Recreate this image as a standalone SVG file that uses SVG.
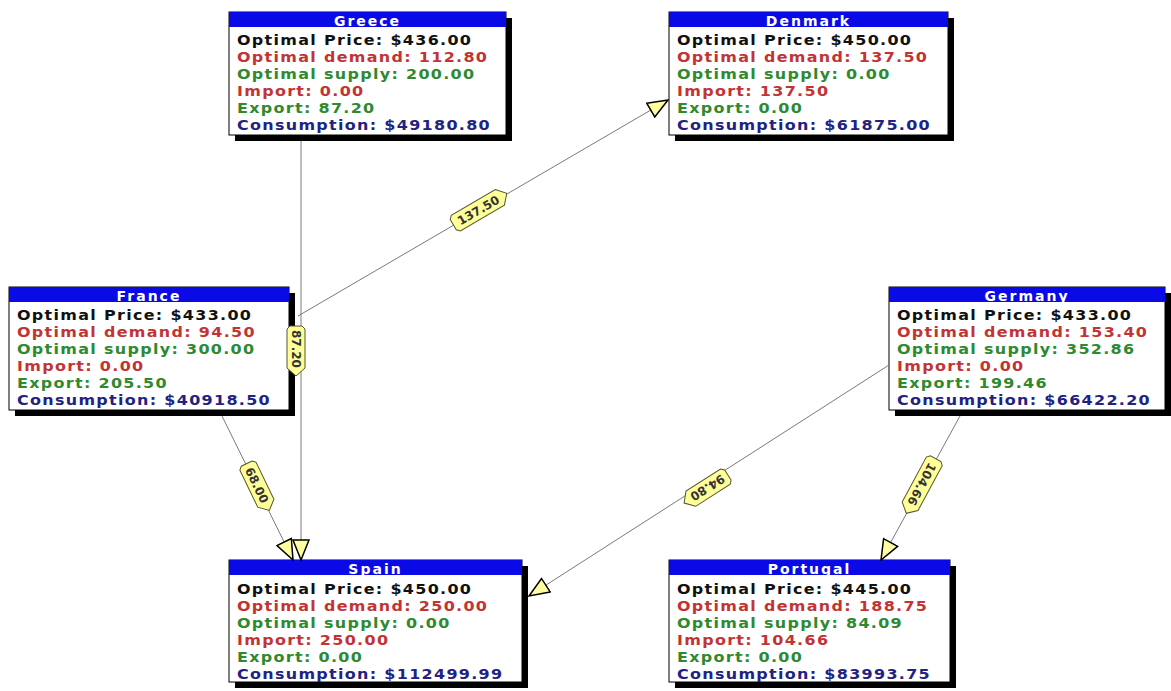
<svg xmlns="http://www.w3.org/2000/svg" width="1171" height="691" viewBox="0 0 1171 691">
<style>
.shadow{fill:#000}
.box{fill:#fff;stroke:#000;stroke-width:1}
.bar{fill:#0a0ae6}
.title{font-family:"DejaVu Sans",sans-serif;font-weight:bold;font-size:14px;letter-spacing:2px;fill:#fff;text-anchor:middle}
.t{font-family:"DejaVu Sans",sans-serif;font-weight:bold;font-size:14.5px;letter-spacing:1.2px}
.k{fill:#111}
.r{fill:#c23434}
.g{fill:#2f8a2f}
.b{fill:#222283}
.line{stroke:#7a7a7a;stroke-width:1;fill:none}
.tag{fill:#ffff99;stroke:#55552a;stroke-width:1}
.tagt{font-family:"DejaVu Sans",sans-serif;font-weight:bold;font-size:12px;fill:#333;text-anchor:middle}
</style>
<defs>
<marker id="arr" viewBox="0 0 22 18" refX="21" refY="9" markerWidth="22" markerHeight="18" markerUnits="userSpaceOnUse" orient="auto">
<path d="M1,1 L21,9 L1,17 Z" fill="#ffffa0" stroke="#000" stroke-width="1.5"/>
</marker>
</defs>
<rect width="1171" height="691" fill="#fff"/>

<g id="greece">
<rect class="shadow" x="235" y="18" width="277" height="123"/>
<rect class="box" x="229" y="12" width="277" height="123"/>
<rect class="bar" x="229" y="12" width="277" height="15"/>
<text class="title" x="367.5" y="26">Greece</text>
<g transform="translate(237,0) scale(1.1,1)">
<text class="t k" x="0" y="45">Optimal Price: $436.00</text>
<text class="t r" x="0" y="62">Optimal demand: 112.80</text>
<text class="t g" x="0" y="79">Optimal supply: 200.00</text>
<text class="t r" x="0" y="96">Import: 0.00</text>
<text class="t g" x="0" y="113">Export: 87.20</text>
<text class="t b" x="0" y="130">Consumption: $49180.80</text>
</g>
</g>

<g id="denmark">
<rect class="shadow" x="675" y="18" width="279" height="123"/>
<rect class="box" x="669" y="12" width="279" height="123"/>
<rect class="bar" x="669" y="12" width="279" height="15"/>
<text class="title" x="808.5" y="26">Denmark</text>
<g transform="translate(677,0) scale(1.1,1)">
<text class="t k" x="0" y="45">Optimal Price: $450.00</text>
<text class="t r" x="0" y="62">Optimal demand: 137.50</text>
<text class="t g" x="0" y="79">Optimal supply: 0.00</text>
<text class="t r" x="0" y="96">Import: 137.50</text>
<text class="t g" x="0" y="113">Export: 0.00</text>
<text class="t b" x="0" y="130">Consumption: $61875.00</text>
</g>
</g>

<g id="france">
<rect class="shadow" x="15" y="293" width="280" height="123"/>
<rect class="box" x="9" y="287" width="280" height="123"/>
<rect class="bar" x="9" y="287" width="280" height="15"/>
<text class="title" x="149" y="301">France</text>
<g transform="translate(17,0) scale(1.1,1)">
<text class="t k" x="0" y="320">Optimal Price: $433.00</text>
<text class="t r" x="0" y="337">Optimal demand: 94.50</text>
<text class="t g" x="0" y="354">Optimal supply: 300.00</text>
<text class="t r" x="0" y="371">Import: 0.00</text>
<text class="t g" x="0" y="388">Export: 205.50</text>
<text class="t b" x="0" y="405">Consumption: $40918.50</text>
</g>
</g>

<g id="germany">
<rect class="shadow" x="895" y="293" width="276" height="123"/>
<rect class="box" x="889" y="287" width="276" height="123"/>
<rect class="bar" x="889" y="287" width="276" height="15"/>
<text class="title" x="1027" y="301">Germany</text>
<g transform="translate(897,0) scale(1.1,1)">
<text class="t k" x="0" y="320">Optimal Price: $433.00</text>
<text class="t r" x="0" y="337">Optimal demand: 153.40</text>
<text class="t g" x="0" y="354">Optimal supply: 352.86</text>
<text class="t r" x="0" y="371">Import: 0.00</text>
<text class="t g" x="0" y="388">Export: 199.46</text>
<text class="t b" x="0" y="405">Consumption: $66422.20</text>
</g>
</g>

<g id="spain">
<rect class="shadow" x="235" y="566" width="293" height="122"/>
<rect class="box" x="229" y="560" width="293" height="122"/>
<rect class="bar" x="229" y="560" width="293" height="15"/>
<text class="title" x="375.5" y="574">Spain</text>
<g transform="translate(237,0) scale(1.1,1)">
<text class="t k" x="0" y="594">Optimal Price: $450.00</text>
<text class="t r" x="0" y="611">Optimal demand: 250.00</text>
<text class="t g" x="0" y="628">Optimal supply: 0.00</text>
<text class="t r" x="0" y="645">Import: 250.00</text>
<text class="t g" x="0" y="662">Export: 0.00</text>
<text class="t b" x="0" y="679">Consumption: $112499.99</text>
</g>
</g>

<g id="portugal">
<rect class="shadow" x="675" y="566" width="281" height="122"/>
<rect class="box" x="669" y="560" width="281" height="122"/>
<rect class="bar" x="669" y="560" width="281" height="15"/>
<text class="title" x="809.5" y="574">Portugal</text>
<g transform="translate(677,0) scale(1.1,1)">
<text class="t k" x="0" y="594">Optimal Price: $445.00</text>
<text class="t r" x="0" y="611">Optimal demand: 188.75</text>
<text class="t g" x="0" y="628">Optimal supply: 84.09</text>
<text class="t r" x="0" y="645">Import: 104.66</text>
<text class="t g" x="0" y="662">Export: 0.00</text>
<text class="t b" x="0" y="679">Consumption: $83993.75</text>
</g>
</g>

<g id="connectors">
<line class="line" x1="301" y1="141" x2="301" y2="560" marker-end="url(#arr)"/>
<line class="line" x1="298" y1="316" x2="668" y2="100" marker-end="url(#arr)"/>
<line class="line" x1="222" y1="416" x2="293" y2="560" marker-end="url(#arr)"/>
<line class="line" x1="889" y1="365" x2="529" y2="596" marker-end="url(#arr)"/>
<line class="line" x1="960" y1="416" x2="881" y2="560" marker-end="url(#arr)"/>

<g transform="translate(296,351) rotate(90)">
<path class="tag" d="M-25,-6 L-22,-9 L17,-9 L25,0 L17,9 L-22,9 L-25,6 Z"/>
<text class="tagt" x="-2" y="4.5">87.20</text>
</g>
<g transform="translate(480,209) rotate(-30.3)">
<path class="tag" d="M-31,-6 L-28,-9 L23,-9 L31,0 L23,9 L-28,9 L-31,6 Z"/>
<text class="tagt" x="-2" y="4.5">137.50</text>
</g>
<g transform="translate(258,487) rotate(64.2)">
<path class="tag" d="M-26,-6 L-23,-9 L18,-9 L26,0 L18,9 L-23,9 L-26,6 Z"/>
<text class="tagt" x="-2" y="4.5">68.00</text>
</g>
<g transform="translate(706,489) rotate(147.3)">
<path class="tag" d="M-26,-6 L-23,-9 L18,-9 L26,0 L18,9 L-23,9 L-26,6 Z"/>
<text class="tagt" x="-2" y="4.5">94.80</text>
</g>
<g transform="translate(921,486) rotate(118.3)">
<path class="tag" d="M-31,-6 L-28,-9 L23,-9 L31,0 L23,9 L-28,9 L-31,6 Z"/>
<text class="tagt" x="-2" y="4.5">104.66</text>
</g>
</g>
</svg>
